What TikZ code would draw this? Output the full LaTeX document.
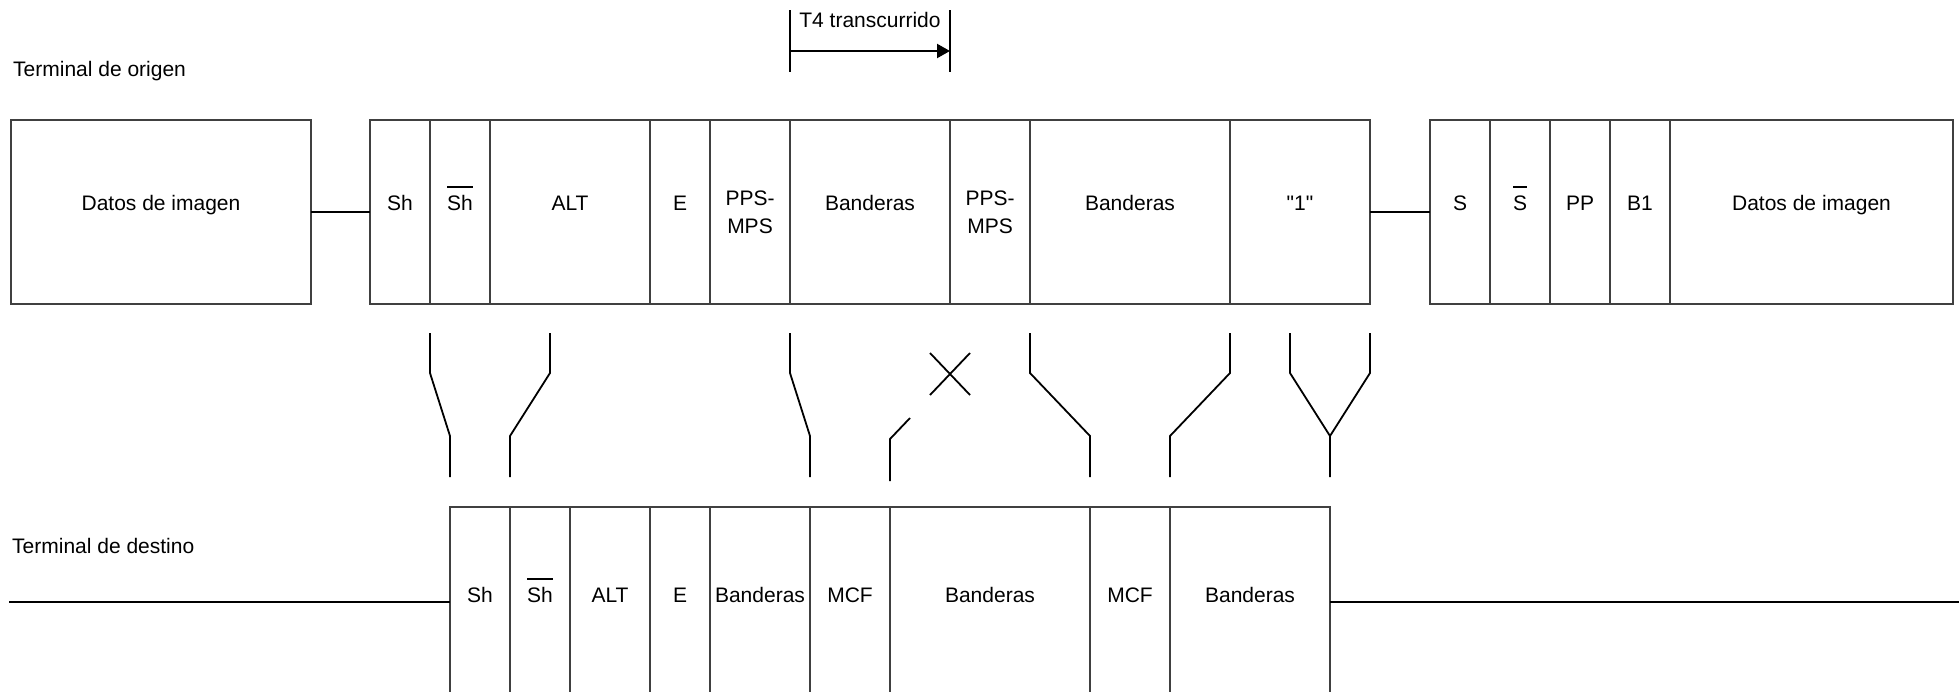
\documentclass[tikz,border=0pt]{standalone}
\usepackage{fontspec}
\setmainfont{Liberation Sans}
\usetikzlibrary{positioning,arrows.meta}
\newcommand{\ovl}[1]{\sbox0{#1}\rlap{\rule[22pt]{\wd0}{1.6pt}}\usebox0}

\begin{document}
\begin{tikzpicture}[x=1pt, y=-1pt, node distance=0pt,
    font=\fontsize{21}{28}\selectfont,
    ocell/.style={rectangle, draw=black!75, line width=1.2pt, inner sep=0pt, outer sep=0pt,
      minimum height=184pt, text height=5pt, text depth=9pt},
    dcell/.style={ocell, minimum height=190pt, text height=7pt, text depth=7pt},
    twoline/.style={align=center, text height=, text depth=},
    tlabel/.style={inner sep=0pt},
    link/.style={line width=2.2pt},
    switch/.style={line width=1.8pt},
    timeline/.style={line width=1.5pt}]

\useasboundingbox (0,0) rectangle (1959,691);
\clip (0,0) rectangle (1959,691);

% terminal de origen
\node[tlabel, anchor=base west] (orig) at (13,76) {Terminal de origen};
\node[ocell, minimum width=300pt, anchor=west] (odat) at (11,212) {Datos de imagen};
\node[ocell, minimum width=60pt, right=59pt of odat] (osh) {Sh};
\node[ocell, minimum width=60pt, right=of osh] (oshb) {\ovl{Sh}};
\node[ocell, minimum width=160pt, right=of oshb] (oalt) {ALT};
\node[ocell, minimum width=60pt, right=of oalt] (oe) {E};
\node[ocell, twoline, minimum width=80pt, right=of oe] (opps1) {PPS-\\MPS};
\node[ocell, minimum width=160pt, right=of opps1] (oban1) {Banderas};
\node[ocell, twoline, minimum width=80pt, right=of oban1] (opps2) {PPS-\\MPS};
\node[ocell, minimum width=200pt, right=of opps2] (oban2) {Banderas};
\node[ocell, minimum width=140pt, right=of oban2] (oone) {\textquotedbl 1\textquotedbl};
\node[ocell, minimum width=60pt, right=60pt of oone] (os) {S};
\node[ocell, minimum width=60pt, right=of os] (osb) {\ovl{S}};
\node[ocell, minimum width=60pt, right=of osb] (opp) {PP};
\node[ocell, minimum width=60pt, right=of opp] (ob1) {B1};
\node[ocell, minimum width=283pt, right=of ob1] (odat2) {Datos de imagen};

\draw[link] (odat.east) -- (osh.west);
\draw[link] (oone.east) -- (os.west);

% T4
\draw[timeline] (opps1.east |- 0,10) -- (opps1.east |- 0,72);
\draw[timeline] (oban1.east |- 0,10) -- (oban1.east |- 0,72);
\draw[link, -{Triangle[length=13pt,width=14pt]}] (opps1.east |- 0,51) -- (oban1.east |- 0,51);
\node[tlabel, anchor=base] (t4) at (oban1.north |- 0,27) {T4 transcurrido};

% terminal de destino
\node[tlabel, anchor=base west] (dest) at (12,553) {Terminal de destino};
\node[dcell, minimum width=60pt, anchor=west] (dsh) at (450,602) {Sh};
\node[dcell, minimum width=60pt, right=of dsh] (dshb) {\ovl{Sh}};
\node[dcell, minimum width=80pt, right=of dshb] (dalt) {ALT};
\node[dcell, minimum width=60pt, right=of dalt] (de) {E};
\node[dcell, minimum width=100pt, right=of de] (dban1) {Banderas};
\node[dcell, minimum width=80pt, right=of dban1] (dmcf1) {MCF};
\node[dcell, minimum width=200pt, right=of dmcf1] (dban2) {Banderas};
\node[dcell, minimum width=80pt, right=of dban2] (dmcf2) {MCF};
\node[dcell, minimum width=160pt, right=of dmcf2] (dban3) {Banderas};

\coordinate (lin) at (9,602);
\coordinate (lout) at (1959,602);
\draw[link] (lin) -- (dsh.west);
\draw[link] (dban3.east) -- (lout);

% conmutadores
\draw[switch] (osh.east |- 0,333) -- ++(0,40) -- (dsh.west |- 0,436) -- ++(0,41);
\draw[switch] (oalt.west |- 0,333) ++(60,0) -- ++(0,40) -- (dsh.east |- 0,436) -- ++(0,41);
\draw[switch] (opps1.east |- 0,333) -- ++(0,40) -- (dban1.east |- 0,436) -- ++(0,41);
\draw[switch] (dmcf1.east |- 0,481) -- ++(0,-42) -- ++(20,-21);
\coordinate (cross) at (oban1.east |- 0,374);
\draw[switch] (cross) ++(-20,-21) -- ++(40,42) ++(0,-42) -- ++(-40,42);
\draw[switch] (oban2.west |- 0,333) -- ++(0,40) -- (dban2.east |- 0,436) -- ++(0,41);
\draw[switch] (oban2.east |- 0,333) -- ++(0,40) -- (dmcf2.east |- 0,436) -- ++(0,41);
\draw[switch] (oone.east |- 0,333) ++(-80,0) -- ++(0,40) -- (dban3.east |- 0,436) -- ++(0,41);
\draw[switch] (oone.east |- 0,333) -- ++(0,40) -- (dban3.east |- 0,436);

\end{tikzpicture}
\end{document}
